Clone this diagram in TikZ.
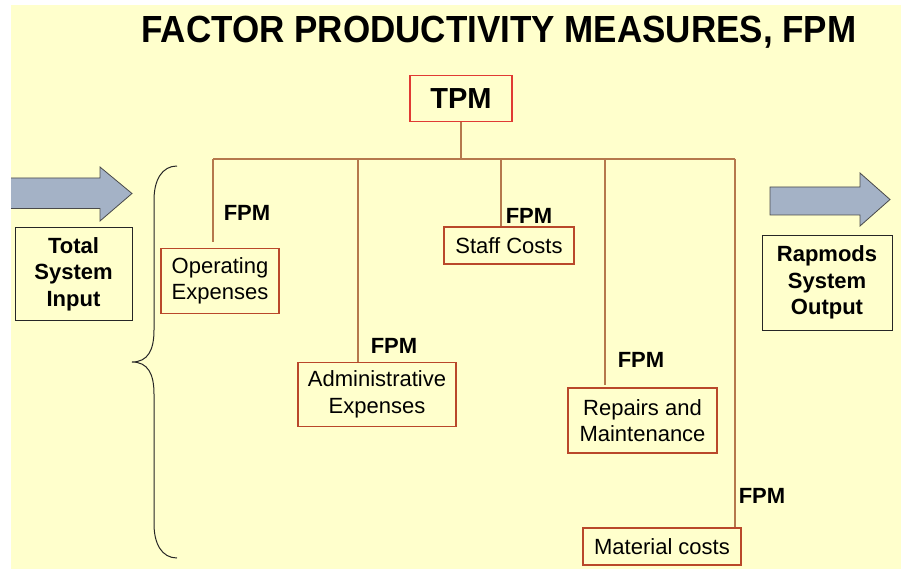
\documentclass[tikz,border=0pt]{standalone}
\usepackage{fontspec}
\setmainfont{Liberation Sans}
\definecolor{bgyellow}{HTML}{FFFFCC}
\definecolor{boxred}{HTML}{B9482A}
\definecolor{tpmred}{HTML}{E03A34}
\definecolor{linebrown}{HTML}{B5784C}
\definecolor{arrowfill}{HTML}{A4B2C6}
\definecolor{arrowline}{HTML}{4A4A4A}
\tikzset{
  costbox/.style={draw=boxred, line width=1.2pt, inner sep=0pt, align=center,
    font=\fontsize{22}{26.5}\selectfont},
  sysbox/.style={draw=black!85, fill=bgyellow, line width=1pt, inner sep=0pt, align=center,
    font=\fontsize{22}{26.5}\selectfont\bfseries},
  fpmlabel/.style={inner sep=0pt, font=\fontsize{22}{26}\selectfont\bfseries},
  conn/.style={draw=linebrown, line width=1.2pt},
  blockarrow/.style={fill=arrowfill, draw=arrowline, line width=0.8pt, line join=miter}
}
\begin{document}
\begin{tikzpicture}[x=1pt, y=-1pt]
\useasboundingbox (0,0) rectangle (901,569);
\fill[bgyellow] (11,5) rectangle (901,569);

% title
\node[inner sep=0pt, font=\fontsize{35}{40}\selectfont\bfseries, yscale=1.08] (title) at (499,32) {FACTOR PRODUCTIVITY MEASURES, FPM};

% TPM
\node[draw=tpmred, line width=1.2pt, inner sep=0pt, minimum width=102pt, minimum height=46pt,
  font=\fontsize{29}{32}\selectfont\bfseries] (tpm) at (461,98.5) {TPM};

% cost boxes
\node[costbox, minimum width=118pt, minimum height=65pt] (oper) at (220,281) {Operating\\Expenses};
\node[costbox, minimum width=158pt, minimum height=64pt] (admin) at (377,394.5) {Administrative\\Expenses};
\node[costbox, minimum width=130pt, minimum height=37pt] (staff) at (509,245.5) {Staff Costs};
\node[costbox, minimum width=149pt, minimum height=65pt] (repair) at (642.5,420.5) {Repairs and\\Maintenance};
\node[costbox, minimum width=158pt, minimum height=37pt] (mater) at (662,546.5) {Material costs};

% bus coordinates
\coordinate (tpmj) at (461,159);
\coordinate (b1) at (213,159);
\coordinate (b2) at (358,159);
\coordinate (b3) at (501,159);
\coordinate (b4) at (605,159);
\coordinate (b5) at (735,159);
\coordinate (operend) at (213,242);

\draw[conn] (tpm.south) -- (tpmj);
\draw[conn] (b1) -- (b5);
\draw[conn] (b1) -- (operend);
\draw[conn] (b2) -- (b2 |- admin.north);
\draw[conn] (b3) -- (b3 |- staff.north);
\draw[conn] (b4) -- (605,385);
\draw[conn] (b5) -- (b5 |- mater.north);

% FPM labels
\node[fpmlabel] (f1) at (247,213) {FPM};
\node[fpmlabel] (f2) at (394,346) {FPM};
\node[fpmlabel] (f3) at (529,216) {FPM};
\node[fpmlabel] (f4) at (641,360) {FPM};
\node[fpmlabel] (f5) at (762,496) {FPM};

% system boxes
\node[sysbox, minimum width=117pt, minimum height=92pt] (input) at (73.5,274) {Total\\System\\Input};
\node[sysbox, minimum width=130pt, minimum height=95pt] (output) at (827,282.5) {Rapmods\\System\\Output};

% block arrows
\fill[arrowfill] (11,178) -- (100,178) -- (100,167) -- (132,193.5) -- (100,221) -- (100,208.5) -- (11,208.5) -- cycle;
\draw[arrowline, line width=0.8pt, line join=miter] (11,178) -- (100,178) -- (100,167) -- (132,193.5) -- (100,221) -- (100,208.5) -- (11,208.5);
\draw[blockarrow] (770,187) -- (860,187) -- (860,173) -- (890,199.5) -- (860,226) -- (860,215) -- (770,215) -- cycle;

% brace
\draw[black!85, line width=1pt] (177,166) .. controls (162,166) and (154,180) .. (154,200)
  -- (154,330) .. controls (154,350) and (148,362) .. (132,362)
  .. controls (148,362) and (154,374) .. (154,394)
  -- (154,524) .. controls (154,544) and (162,558) .. (177,558);
\end{tikzpicture}
\end{document}
